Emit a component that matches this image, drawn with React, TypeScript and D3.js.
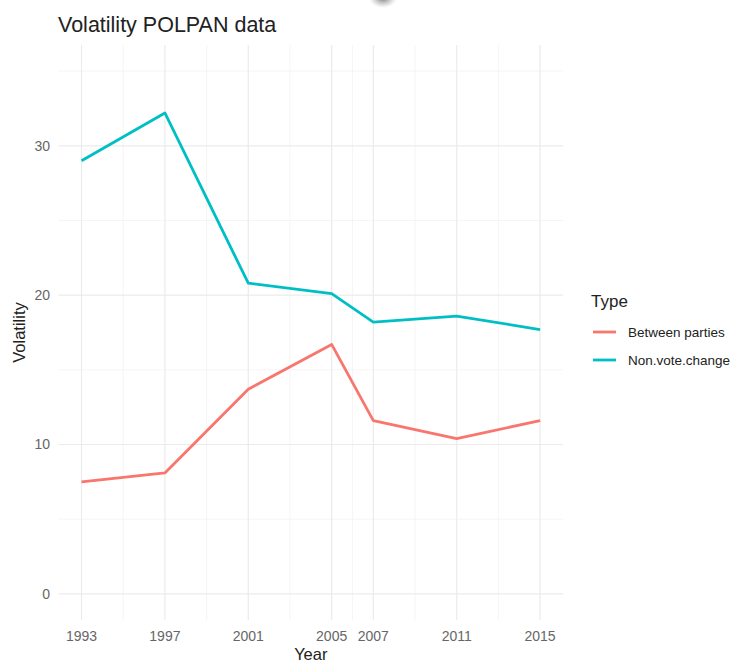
import React from "react";
import * as d3 from "d3";

const years = [1993, 1997, 2001, 2005, 2007, 2011, 2015];
const minorYears = [1995, 1999, 2003, 2006, 2009, 2013];
const betweenParties = [7.5, 8.1, 13.7, 16.7, 11.6, 10.4, 11.6];
const nonVoteChange = [29.0, 32.2, 20.8, 20.1, 18.2, 18.6, 17.7];
const yTicks = [0, 10, 20, 30];
const yMinor = [5, 15, 25, 35];
const seriesNames = ["Between parties", "Non.vote.change"];
const seriesColors = ["#F8766D", "#00BFC4"];

export default function App() {
  const W = 741, H = 662;
  const left = 58.6, right = 563, top = 45, bottom = 620;
  const x = d3.scaleLinear().domain([1993 - 1.1, 2015 + 1.1]).range([left, right]);
  const y = d3.scaleLinear().domain([-1.75, 36.75]).range([bottom, top]);
  const line = d3.line<[number, number]>().x(d => x(d[0])).y(d => y(d[1]));
  const series = [betweenParties, nonVoteChange];
  const font = "Liberation Sans, Arial, sans-serif";
  return (
    <svg width={W} height={H} style={{ position: "absolute", left: 0, top: 0, background: "#fff" }} fontFamily={font}>
      <defs>
        <radialGradient id="blob" cx="50%" cy="30%" r="50%">
          <stop offset="0%" stopColor="#555" stopOpacity="0.8" />
          <stop offset="100%" stopColor="#999" stopOpacity="0" />
        </radialGradient>
      </defs>
      <rect width={W} height={H} fill="#fff" />
      <ellipse cx={383} cy={2} rx={14} ry={10} fill="url(#blob)" />
      {/* grid */}
      {yMinor.map(v => (
        <line key={"ym" + v} x1={left} x2={right} y1={y(v)} y2={y(v)} stroke="#f2f2f2" strokeWidth={0.8} />
      ))}
      {minorYears.map(v => (
        <line key={"xm" + v} x1={x(v)} x2={x(v)} y1={top} y2={bottom} stroke="#f2f2f2" strokeWidth={0.8} />
      ))}
      {yTicks.map(v => (
        <line key={"y" + v} x1={left} x2={right} y1={y(v)} y2={y(v)} stroke="#ebebeb" strokeWidth={1.2} />
      ))}
      {years.map(v => (
        <line key={"x" + v} x1={x(v)} x2={x(v)} y1={top} y2={bottom} stroke="#ebebeb" strokeWidth={1.2} />
      ))}
      {/* lines */}
      {series.map((s, i) => (
        <path key={i} d={line(years.map((yr, j) => [yr, s[j]]) as [number, number][]) || ""}
          fill="none" stroke={seriesColors[i]} strokeWidth={2.8} strokeLinejoin="round" />
      ))}
      {/* axis labels */}
      {yTicks.map(v => (
        <text key={"yl" + v} x={50} y={y(v)} dy="0.35em" textAnchor="end" fontSize={14} fill="#666">{v}</text>
      ))}
      {years.map(v => (
        <text key={"xl" + v} x={x(v)} y={641} textAnchor="middle" fontSize={14} fill="#666">{v}</text>
      ))}
      <text x={(left + right) / 2} y={660} textAnchor="middle" fontSize={16.5} fill="#222">Year</text>
      <text transform={`translate(25, ${(top + bottom) / 2}) rotate(-90)`} textAnchor="middle" fontSize={16.5} fill="#222">Volatility</text>
      <text x={58} y={32} fontSize={21.5} fill="#222">Volatility POLPAN data</text>
      {/* legend */}
      <text x={591} y={307} fontSize={17} fill="#222">Type</text>
      {seriesNames.map((n, i) => (
        <g key={n}>
          <line x1={593} x2={616} y1={332 + i * 28} y2={332 + i * 28} stroke={seriesColors[i]} strokeWidth={2.8} />
          <text x={628} y={332 + i * 28} dy="0.35em" fontSize={13.5} fill="#222">{n}</text>
        </g>
      ))}
    </svg>
  );
}
